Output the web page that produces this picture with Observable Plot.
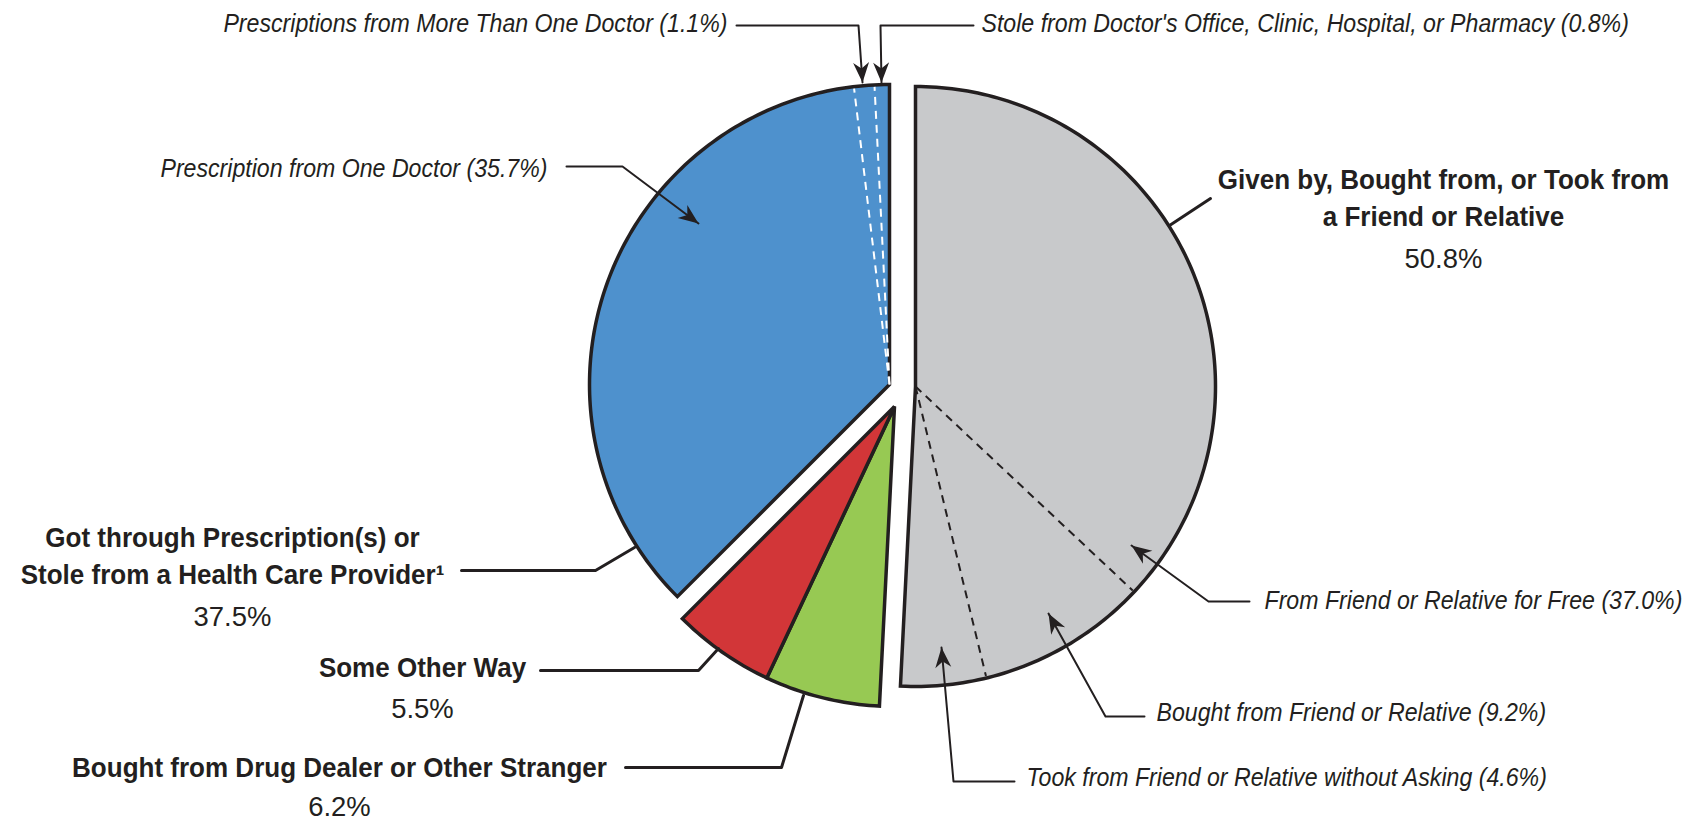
<!DOCTYPE html>
<html>
<head>
<meta charset="utf-8">
<script src="https://cdn.jsdelivr.net/npm/d3@7"></script>
<script src="https://cdn.jsdelivr.net/npm/@observablehq/plot@0.6"></script>
<style>
  html, body { margin: 0; padding: 0; background: #fff; }
  #chart svg { display: block; }
</style>
</head>
<body>
<div id="chart"></div>
<script>
// ---------------- DATA ----------------
const sliceKeys = ["friend", "dealer", "other", "rx"];
const sliceTitles = [
  "Given by, Bought from, or Took from\na Friend or Relative",
  "Bought from Drug Dealer or Other Stranger",
  "Some Other Way",
  "Got through Prescription(s) or\nStole from a Health Care Provider\u00B9"
];
const slicePercents = [50.8, 6.2, 5.5, 37.5];

const friendSubLabels = [
  "From Friend or Relative for Free",
  "Bought from Friend or Relative",
  "Took from Friend or Relative without Asking"
];
const friendSubPercents = [37.0, 9.2, 4.6];

const rxSubLabels = [
  "Prescription from One Doctor",
  "Prescriptions from More Than One Doctor",
  "Stole from Doctor's Office, Clinic, Hospital, or Pharmacy"
];
const rxSubPercents = [35.7, 1.1, 0.8];

// ---------------- STYLE / LAYOUT ----------------
const W = 1683, H = 822;
const ink = "#231f20";
const sliceColors = {friend: "#c8c9cb", dealer: "#97c953", other: "#d23638", rx: "#4e91cd"};
const R = 300;
// exploded centre of each slice (pixels)
const sliceCenters = {friend: [915, 386], dealer: [894, 406], other: [894, 406], rx: [889, 384]};
const subLineColor = {friend: ink, rx: "#ffffff"};

// main (bold) label layout: anchor x, cap-top y of first title line, cap-top y of pct, leader polyline
const titleLineGap = 37;
const mainLayout = {
  friend: {x: 1443, y: 169, py: 248, leader: [[1169, 225], [1210, 198]]},
  dealer: {x: 339, y: 757, py: 796, leader: [[625, 767], [781, 767], [803, 695]]},
  other:  {x: 422, y: 657, py: 698, leader: [[540, 670], [698, 670], [718, 648]]},
  rx:     {x: 232, y: 527, py: 606, leader: [[461, 570], [595, 570], [634, 547]]}
};
// sub (italic) label layout: text position (cap-top) + leader ending with an arrow
const subLayout = {
  "From Friend or Relative for Free": {x: 1264, y: 590, anchor: "start", leader: [[1249, 601], [1208, 601], [1131, 545]]},
  "Bought from Friend or Relative": {x: 1156, y: 702, anchor: "start", leader: [[1144, 716], [1105, 716], [1048, 613]]},
  "Took from Friend or Relative without Asking": {x: 1026, y: 767, anchor: "start", leader: [[1014, 781], [953, 781], [941, 647]]},
  "Prescription from One Doctor": {x: 547, y: 158, anchor: "end", leader: [[566, 166], [622, 166], [698, 223]]},
  "Prescriptions from More Than One Doctor": {x: 727, y: 13, anchor: "end", leader: [[736, 25], [858, 25], [862, 82]]},
  "Stole from Doctor's Office, Clinic, Hospital, or Pharmacy": {x: 981, y: 13, anchor: "start", leader: [[973, 25], [880, 25], [881, 82]]}
};
// horizontal condensing of the fonts (to mimic a condensed face)
const condense = {title: 0.93, pct: 0.98, sub: 0.89};

// ---------------- GEOMETRY FROM DATA ----------------
const total = d3.sum(slicePercents);
const toDeg = v => v / total * 360;
const pt = (c, a, r) => [c[0] + r * Math.sin(a * Math.PI / 180), c[1] - r * Math.cos(a * Math.PI / 180)];

let acc = 0;
const slices = sliceKeys.map((k, i) => {
  const a0 = acc; acc += toDeg(slicePercents[i]);
  return {key: k, a0, a1: acc, title: sliceTitles[i], pct: slicePercents[i]};
});

function slicePolygon(s) {
  const c = sliceCenters[s.key];
  const pts = [{x: c[0], y: c[1]}];
  const n = Math.max(4, Math.ceil(s.a1 - s.a0));
  for (let j = 0; j <= n; j++) {
    const a = s.a0 + (s.a1 - s.a0) * j / n;
    const p = pt(c, a, R);
    pts.push({x: p[0], y: p[1]});
  }
  return pts;
}

function subBoundaries(s, values) {
  const sum = d3.sum(values);
  const out = [];
  let cum = 0;
  for (let j = 0; j < values.length - 1; j++) {
    cum += values[j];
    const a = s.a0 + (s.a1 - s.a0) * cum / sum;
    const c = sliceCenters[s.key];
    const p = pt(c, a, R - 2);
    out.push({key: s.key, x1: c[0], y1: c[1], x2: p[0], y2: p[1]});
  }
  return out;
}
const subLines = [
  ...subBoundaries(slices[0], friendSubPercents),
  ...subBoundaries(slices[3], rxSubPercents)
];

// labels
const mainTitleLines = slices.flatMap(s => s.title.split("\n").map((line, i) => ({
  x: mainLayout[s.key].x, y: mainLayout[s.key].y + i * titleLineGap, text: line
})));
const mainPcts = slices.map(s => ({...mainLayout[s.key], text: s.pct.toFixed(1) + "%"}));
const subLabels = [
  ...friendSubLabels.map((l, i) => ({...subLayout[l], text: `${l} (${friendSubPercents[i].toFixed(1)}%)`})),
  ...rxSubLabels.map((l, i) => ({...subLayout[l], text: `${l} (${rxSubPercents[i].toFixed(1)}%)`}))
];

const mainLeaderPts = [];
slices.forEach(s => mainLayout[s.key].leader.forEach(p => mainLeaderPts.push({id: s.key, x: p[0], y: p[1]})));
const subLeaderPts = [];
const arrowTips = [];
subLabels.forEach((l, i) => {
  l.leader.forEach(p => subLeaderPts.push({id: i, x: p[0], y: p[1]}));
  const n = l.leader.length;
  const [ax, ay] = l.leader[n - 2], [bx, by] = l.leader[n - 1];
  arrowTips.push({x: bx, y: by, rotate: Math.atan2(bx - ax, -(by - ay)) * 180 / Math.PI});
});

const arrowHead = {
  draw(context, size) {
    const s = Math.sqrt(size / Math.PI) / 10;
    context.moveTo(0, 0);
    context.lineTo(-8 * s, 20 * s);
    context.lineTo(0, 14 * s);
    context.lineTo(8 * s, 20 * s);
    context.closePath();
  }
};

const fontFamily = "'Liberation Sans', Arial, sans-serif";

const sliceMarks = slices.map(s => Plot.line(slicePolygon(s), {
  x: "x", y: "y", curve: "linear-closed",
  fill: sliceColors[s.key], stroke: ink, strokeWidth: 3.5,
  strokeLinejoin: "miter", strokeMiterlimit: 4
}));

const chart = Plot.plot({
  width: W, height: H, margin: 0,
  x: {domain: [0, W], range: [0, W], axis: null},
  y: {domain: [0, H], range: [0, H], axis: null},
  style: {fontFamily, background: "#fff", color: ink},
  marks: [
    ...sliceMarks,
    Plot.link(subLines, {
      x1: "x1", y1: "y1", x2: "x2", y2: "y2",
      stroke: d => subLineColor[d.key], strokeWidth: 2, strokeDasharray: "8,6"
    }),
    Plot.line(mainLeaderPts, {x: "x", y: "y", z: "id", stroke: ink, strokeWidth: 3, curve: "linear"}),
    Plot.line(subLeaderPts, {x: "x", y: "y", z: "id", stroke: ink, strokeWidth: 2, curve: "linear"}),
    Plot.dot(arrowTips, {x: "x", y: "y", rotate: "rotate", symbol: arrowHead, r: 10, fill: ink, stroke: "none"}),
    Plot.text(mainTitleLines, {
      x: "x", y: "y", text: "text", textAnchor: "middle", lineAnchor: "top",
      fontSize: 28, fontWeight: "bold", fill: ink
    }),
    Plot.text(mainPcts, {
      x: "x", y: "py", text: "text", textAnchor: "middle", lineAnchor: "top",
      fontSize: 28, fontWeight: "normal", fill: ink
    }),
    Plot.text(subLabels.filter(d => d.anchor === "start"), {
      x: "x", y: "y", text: "text", textAnchor: "start", lineAnchor: "top",
      fontSize: 26, fontStyle: "italic", fill: ink
    }),
    Plot.text(subLabels.filter(d => d.anchor === "end"), {
      x: "x", y: "y", text: "text", textAnchor: "end", lineAnchor: "top",
      fontSize: 26, fontStyle: "italic", fill: ink
    })
  ]
});
document.getElementById("chart").appendChild(chart);

// condense text horizontally around its anchor point (mimics a condensed typeface)
chart.querySelectorAll("text").forEach(el => {
  const cs = getComputedStyle(el);
  const f = cs.fontStyle === "italic" ? condense.sub
    : (+cs.fontWeight >= 600 || cs.fontWeight === "bold") ? condense.title : condense.pct;
  let t = el.getAttribute("transform");
  if (!t) {
    const x = el.getAttribute("x") || 0, y = el.getAttribute("y") || 0;
    el.removeAttribute("x"); el.removeAttribute("y");
    t = `translate(${x},${y})`;
  }
  el.setAttribute("transform", `${t} scale(${f},1)`);
});
</script>
</body>
</html>
